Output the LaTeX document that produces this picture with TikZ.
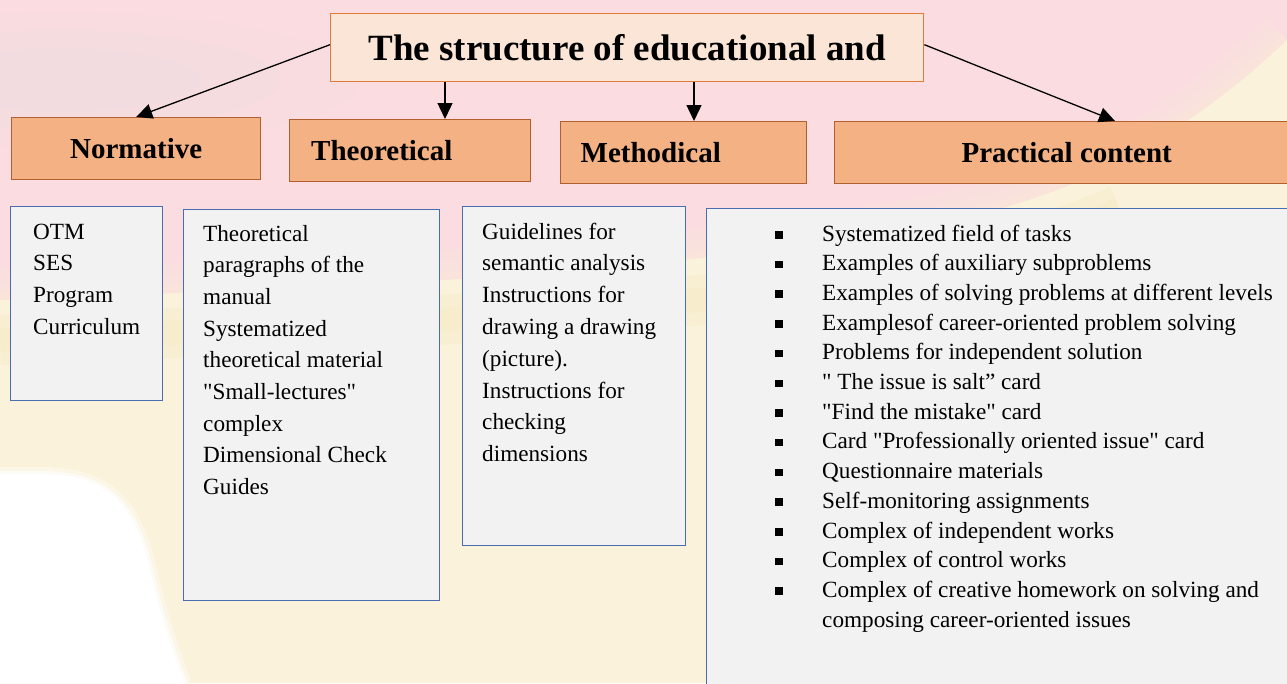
\documentclass[tikz,border=0pt]{standalone}
\usepackage{fontspec}
\setmainfont{Liberation Serif}[Ligatures=TeXOff]
\usetikzlibrary{arrows.meta,calc}

\definecolor{bgpink}{HTML}{FBDDE1}
\definecolor{bgblend}{HTML}{F9E6DA}
\definecolor{bgyellow}{HTML}{FAF2DA}
\definecolor{bgband}{HTML}{F7EBC4}
\definecolor{bghaze}{HTML}{EADCDF}
\definecolor{titlefill}{HTML}{FBE5D6}
\definecolor{titleline}{HTML}{E07B39}
\definecolor{headfill}{HTML}{F4B183}
\definecolor{headline}{HTML}{B0602E}
\definecolor{boxfill}{HTML}{F2F2F2}
\definecolor{boxline}{HTML}{4A6DB0}

\newcommand\bul{\makebox[47pt][l]{\raisebox{2.5pt}{\rule{7.5pt}{7.5pt}}}}
\newcommand\bodylines[3]{\parbox[t]{#1}{\raggedright\fontsize{23.2}{#2}\selectfont #3}}

\begin{document}
\begin{tikzpicture}[x=1pt,y=-1pt,
  titlebox/.style={draw=titleline, fill=titlefill, line width=1.4pt, inner sep=0pt,
    font=\fontsize{37}{44}\selectfont\bfseries},
  headbox/.style={draw=headline, fill=headfill, line width=1.4pt, inner sep=0pt,
    anchor=north west, minimum height=62pt, font=\fontsize{29}{34}\selectfont\bfseries},
  contentbox/.style={draw=boxline, fill=boxfill, line width=1.4pt, anchor=north west, inner sep=0pt},
  bodytext/.style={anchor=base west, inner sep=0pt},
  arr/.style={-{Triangle[length=16pt,width=15pt]}, line width=1.3pt, black}
]
\clip (0,0) rectangle (1287,683);

% ---- background: softly waving flag colours ----
\fill[bgpink] (0,0) rectangle (1287,683);
\foreach \r/\o in {150/0.15,110/0.15,70/0.2}
  \fill[bghaze, opacity=\o] (60,80) ellipse [x radius=2*\r, y radius=0.45*\r];
\foreach \w/\o in {60/0.25,36/0.35,16/0.5}
  \draw[bgblend, line width=\w pt, opacity=\o]
    (0,300) .. controls (250,290) and (500,282) .. (700,258)
    .. controls (900,236) and (1000,218) .. (1100,172)
    .. controls (1180,132) and (1240,85) .. (1287,40);
\fill[bgyellow]
    (0,300) .. controls (250,290) and (500,282) .. (700,258)
    .. controls (900,236) and (1000,218) .. (1100,172)
    .. controls (1180,132) and (1240,85) .. (1287,40)
    -- (1287,683) -- (0,683) -- cycle;
\foreach \w/\o in {50/0.35,24/0.35}
  \draw[bgband, line width=\w pt, opacity=\o]
    (0,340) .. controls (250,330) and (500,320) .. (700,300)
    .. controls (900,280) and (1000,260) .. (1120,210);
\foreach \w/\o in {14/0.35,6/0.6}
  \draw[white, line width=\w pt, opacity=\o]
    (0,474) -- (45,474) .. controls (110,476) and (135,505) .. (150,570)
    .. controls (162,620) and (175,660) .. (185,683);
\fill[white] (0,474) -- (45,474) .. controls (110,476) and (135,505) .. (150,570)
    .. controls (162,620) and (175,660) .. (185,683) -- (0,683) -- cycle;

% ---- title and the four branches ----
\node[titlebox, anchor=north west, minimum width=593pt, minimum height=68pt] (title)
  at (330,13) {The structure of educational and};

\node[headbox, minimum width=249pt] (norm) at (11,117) {Normative};
\node[headbox, text width=198pt, inner xsep=21.5pt, align=left] (theo) at (289,119) {Theoretical};
\node[headbox, text width=206pt, inner xsep=20pt, align=left] (meth) at (560,121) {Methodical};
\node[headbox, minimum width=464pt] (prac) at (834,121) {Practical content};

\draw[arr] ([yshift=3pt]title.west) -- (norm.north);
\draw[arr] ([xshift=115pt]title.south west) -- ([xshift=115pt]title.south west |- theo.north);
\draw[arr] ([xshift=364pt]title.south west) -- ([xshift=364pt]title.south west |- meth.north);
\draw[arr] ([yshift=3pt]title.east) -- ([xshift=281pt]prac.north west);

% ---- content boxes ----
\node[contentbox, minimum width=152pt, minimum height=194pt] (b1) at (10,206) {};
\node[contentbox, minimum width=256pt, minimum height=391pt] (b2) at (183,209) {};
\node[contentbox, minimum width=223pt, minimum height=339pt] (b3) at (462,206) {};
\node[contentbox, minimum width=600pt, minimum height=500pt] (b4) at (706,208) {};

\node[bodytext] (t1) at (33,239) {\bodylines{125pt}{31.7}{OTM\\SES\\Program\\Curriculum}};
\node[bodytext] (t2) at (203,241) {\bodylines{230pt}{31.7}{Theoretical\\paragraphs of the\\manual\\Systematized\\theoretical material\\"Small-lectures"\\complex\\Dimensional Check\\Guides}};
\node[bodytext] (t3) at (482,239) {\bodylines{200pt}{31.8}{Guidelines for\\semantic analysis\\Instructions for\\drawing a drawing\\(picture).\\Instructions for\\checking\\dimensions}};
\node[bodytext] (t4) at (775,241) {\bodylines{560pt}{29.7}{%
\bul Systematized field of tasks\\
\bul Examples of auxiliary subproblems\\
\bul Examples of solving problems at different levels\\
\bul Examplesof career-oriented problem solving\\
\bul Problems for independent solution\\
\bul " The issue is salt” card\\
\bul "Find the mistake" card\\
\bul Card "Professionally oriented issue" card\\
\bul Questionnaire materials\\
\bul Self-monitoring assignments\\
\bul Complex of independent works\\
\bul Complex of control works\\
\bul Complex of creative homework on solving and\\
\hspace*{47pt}composing career-oriented issues}};
\end{tikzpicture}
\end{document}
